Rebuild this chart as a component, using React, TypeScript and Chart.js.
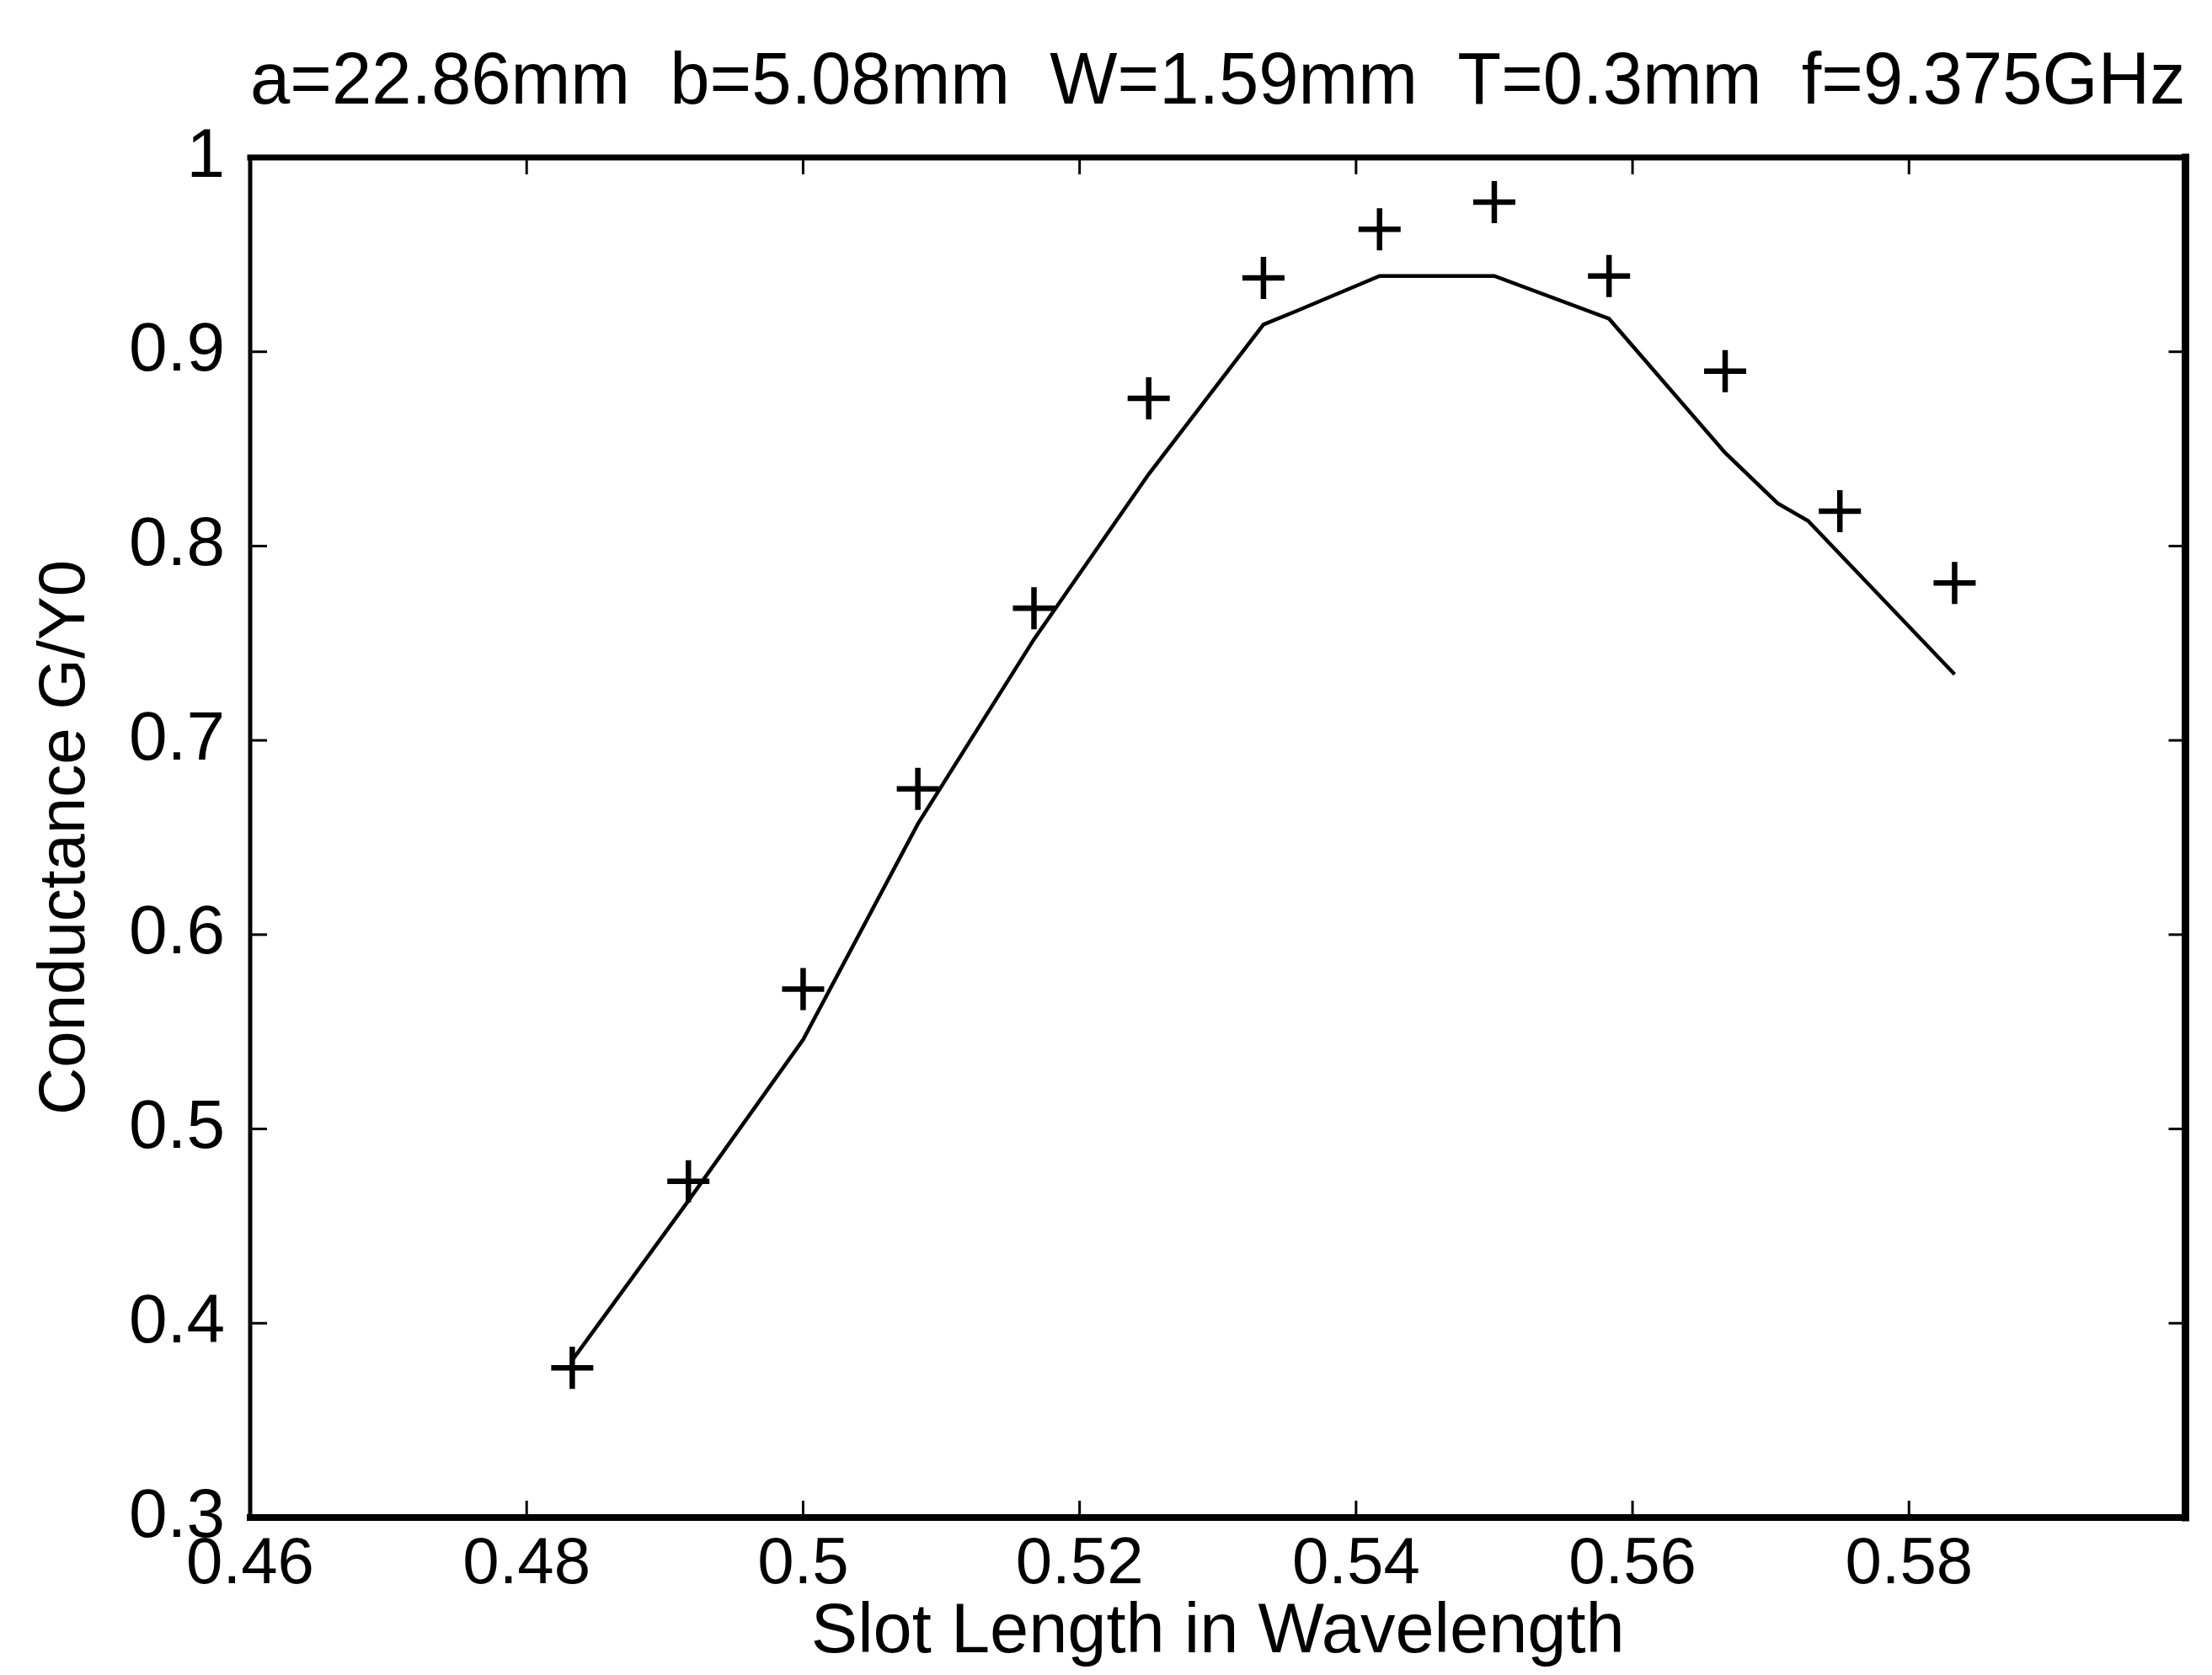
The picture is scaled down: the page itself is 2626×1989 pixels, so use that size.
import React, { useEffect, useRef } from "react";
import { Chart, registerables } from "chart.js";

Chart.register(...registerables);

const titleText = "a=22.86mm  b=5.08mm  W=1.59mm  T=0.3mm  f=9.375GHz";
const xAxisTitle = "Slot Length in Wavelength";
const yAxisTitle = "Conductance G/Y0";

const measuredX = [0.4833, 0.4917, 0.5, 0.5083, 0.5167, 0.525, 0.5333, 0.5417, 0.55, 0.5583, 0.5667, 0.575, 0.5833];
const measuredG = [0.377, 0.473, 0.572, 0.675, 0.768, 0.876, 0.938, 0.963, 0.977, 0.939, 0.890, 0.818, 0.781];

const theoryX = [0.4833, 0.4917, 0.5, 0.5083, 0.5167, 0.525, 0.5333, 0.5357, 0.5417, 0.55, 0.5583, 0.5667, 0.5705, 0.5727, 0.5833];
const theoryG = [0.381, 0.463, 0.546, 0.657, 0.752, 0.837, 0.914, 0.921, 0.939, 0.939, 0.917, 0.848, 0.822, 0.813, 0.734];

const xTickValues = [0.46, 0.48, 0.5, 0.52, 0.54, 0.56, 0.58, 0.6];
const xTickLabels = ["0.46", "0.48", "0.5", "0.52", "0.54", "0.56", "0.58", ""];
const yTickValues = [0.3, 0.4, 0.5, 0.6, 0.7, 0.8, 0.9, 1.0];
const yTickLabels = ["0.3", "0.4", "0.5", "0.6", "0.7", "0.8", "0.9", "1"];

const FONT = "'Liberation Sans', Arial, Helvetica, sans-serif";

const framePlugin = {
  id: "frameTicks",
  beforeDraw(chart: any) {
    const ctx = chart.ctx;
    ctx.save();
    ctx.fillStyle = "#ffffff";
    ctx.fillRect(0, 0, chart.width, chart.height);
    ctx.restore();
  },
  afterDatasetsDraw(chart: any) {
    const { ctx, chartArea: a, scales } = chart;
    ctx.save();
    ctx.strokeStyle = "#000";
    ctx.lineCap = "butt";
    const tl = 20;
    const seg = (x1: number, y1: number, x2: number, y2: number, w: number) => {
      ctx.lineWidth = w;
      ctx.beginPath();
      ctx.moveTo(x1, y1);
      ctx.lineTo(x2, y2);
      ctx.stroke();
    };
    xTickValues.forEach((v) => {
      const px = scales.x.getPixelForValue(v);
      seg(px, a.bottom, px, a.bottom - tl, 3);
      seg(px, a.top, px, a.top + tl, 3);
    });
    yTickValues.forEach((v) => {
      const py = scales.y.getPixelForValue(v);
      seg(a.left, py, a.left + tl, py, 3);
      seg(a.right, py, a.right - tl, py, 3);
    });
    ctx.lineCap = "square";
    seg(a.left, a.top, a.right, a.top, 7);
    seg(a.left, a.bottom, a.right, a.bottom, 8);
    seg(a.left, a.top, a.left, a.bottom, 5);
    seg(a.right, a.top, a.right, a.bottom, 9);
    ctx.restore();
  },
};

export default function App() {
  const ref = useRef<HTMLCanvasElement | null>(null);

  useEffect(() => {
    if (!ref.current) return;
    const chart = new Chart(ref.current, {
      type: "scatter",
      data: {
        datasets: [
          {
            label: "theory",
            data: theoryX.map((x, i) => ({ x, y: theoryG[i] })),
            showLine: true,
            borderColor: "#000",
            borderWidth: 4.5,
            pointRadius: 0,
            tension: 0,
            fill: false,
          },
          {
            label: "measured",
            data: measuredX.map((x, i) => ({ x, y: measuredG[i] })),
            showLine: false,
            pointStyle: "cross",
            pointRadius: 25,
            pointBorderWidth: 6.5,
            borderColor: "#000",
            backgroundColor: "#000",
          },
        ],
      },
      options: {
        responsive: false,
        animation: false,
        layout: { padding: { left: 0, right: 10, top: 0, bottom: 0 } },
        plugins: {
          legend: { display: false },
          tooltip: { enabled: false },
          title: {
            display: true,
            text: titleText,
            fullSize: false,
            color: "#000",
            font: { family: FONT, size: 87, weight: "normal", lineHeight: 1.2 },
            padding: { top: 47, bottom: 35.6 },
          },
        },
        scales: {
          x: {
            type: "linear",
            min: 0.46,
            max: 0.6,
            afterBuildTicks: (s: any) => {
              s.ticks = xTickValues.map((v) => ({ value: v }));
            },
            afterFit: (s: any) => {
              s.height = 187;
            },
            ticks: {
              autoSkip: false,
              maxRotation: 0,
              padding: 10,
              color: "#000",
              font: { family: FONT, size: 78 },
              callback: (_v: any, i: number) => xTickLabels[i],
            },
            grid: { display: false, drawTicks: false },
            border: { display: false },
            title: {
              display: true,
              text: xAxisTitle,
              color: "#000",
              font: { family: FONT, size: 83, lineHeight: 1.2 },
              padding: { top: 0, bottom: 0 },
            },
          },
          y: {
            type: "linear",
            min: 0.3,
            max: 1,
            afterBuildTicks: (s: any) => {
              s.ticks = yTickValues.map((v) => ({ value: v }));
            },
            afterFit: (s: any) => {
              s.width = 297;
            },
            ticks: {
              autoSkip: false,
              padding: 30,
              color: "#000",
              font: { family: FONT, size: 82 },
              callback: (_v: any, i: number) => yTickLabels[i],
            },
            grid: { display: false, drawTicks: false },
            border: { display: false },
            title: {
              display: true,
              text: yAxisTitle,
              color: "#000",
              font: { family: FONT, size: 78, lineHeight: 1.2 },
              padding: { top: 32, bottom: 0 },
            },
          },
        },
      },
      plugins: [framePlugin],
    });
    return () => chart.destroy();
  }, []);

  return (
    <div style={{ position: "absolute", left: 0, top: 0, width: 2626, height: 1989 }}>
      <canvas ref={ref} width={2626} height={1989} style={{ display: "block", width: 2626, height: 1989 }} />
    </div>
  );
}
